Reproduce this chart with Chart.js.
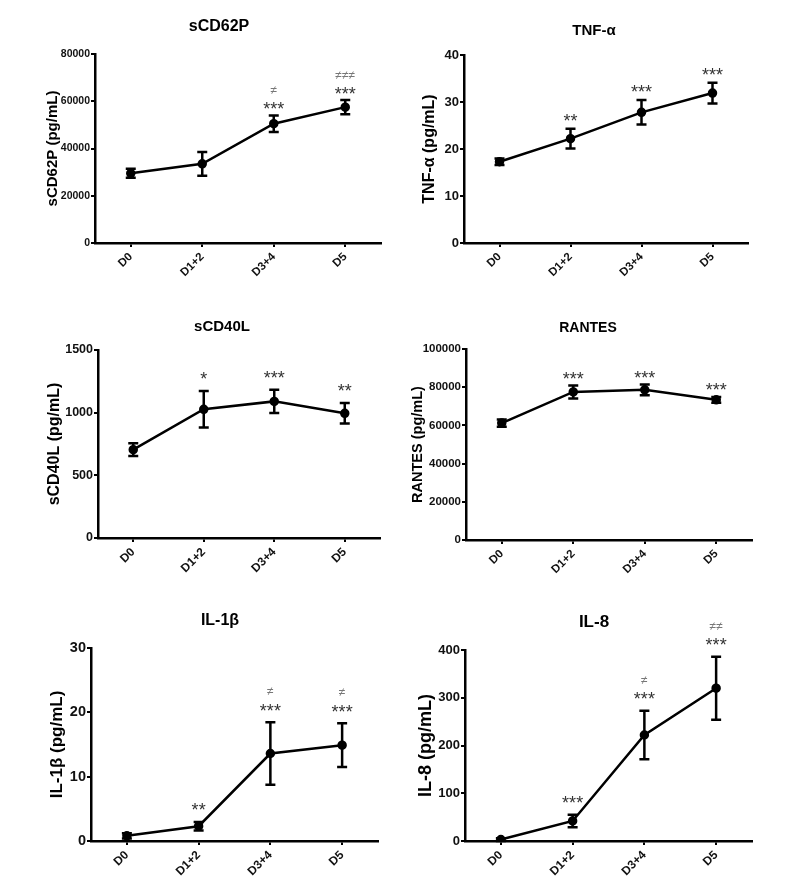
<!DOCTYPE html>
<html>
<head>
<meta charset="utf-8">
<script src="https://cdn.jsdelivr.net/npm/chart.js@4.4.1/dist/chart.umd.min.js"></script>
<style>
  html, body { margin: 0; padding: 0; background: #fff; }
  #page { position: relative; width: 800px; height: 893px; }
  canvas { position: absolute; }
</style>
</head>
<body>
<div id="page">
  <canvas id="cd62p"></canvas>
  <canvas id="tnf"></canvas>
  <canvas id="cd40l"></canvas>
  <canvas id="rantes"></canvas>
  <canvas id="il1b"></canvas>
  <canvas id="il8"></canvas>
</div>
<script>
const FONT = '"Liberation Sans", Arial, sans-serif';

// categories
const days = ["D0", "D1+2", "D3+4", "D5"];

// sCD62P
const cd62pMean  = [29500, 33500, 50500, 57500];
const cd62pSem   = [1900, 5000, 3500, 3000];
const cd62pStars = ["", "", "***", "***"];
const cd62pDiff  = ["", "", "≠", "≠≠≠"];
const cd62pTicks = [0, 20000, 40000, 60000, 80000];

// TNF-alpha
const tnfMean  = [17.3, 22.2, 27.8, 31.9];
const tnfSem   = [0.7, 2.1, 2.6, 2.2];
const tnfStars = ["", "**", "***", "***"];
const tnfDiff  = ["", "", "", ""];
const tnfTicks = [0, 10, 20, 30, 40];

// sCD40L
const cd40lMean  = [705, 1027, 1090, 995];
const cd40lSem   = [50, 145, 93, 82];
const cd40lStars = ["", "*", "***", "**"];
const cd40lDiff  = ["", "", "", ""];
const cd40lTicks = [0, 500, 1000, 1500];

// RANTES
const rantesMean  = [61200, 77500, 78600, 73400];
const rantesSem   = [1900, 3400, 2800, 1500];
const rantesStars = ["", "***", "***", "***"];
const rantesDiff  = ["", "", "", ""];
const rantesTicks = [0, 20000, 40000, 60000, 80000, 100000];

// IL-1beta
const il1bMean  = [0.8, 2.3, 13.6, 14.9];
const il1bSem   = [0.4, 0.65, 4.85, 3.4];
const il1bStars = ["", "**", "***", "***"];
const il1bDiff  = ["", "", "≠", "≠"];
const il1bTicks = [0, 10, 20, 30];

// IL-8
const il8Mean  = [3, 42, 222, 320];
const il8Sem   = [3, 13, 51, 66];
const il8Stars = ["", "***", "***", "***"];
const il8Diff  = ["", "", "≠", "≠≠"];
const il8Ticks = [0, 100, 200, 300, 400];

// error bars + significance marks, placed from the y scale
const errorBars = {
  id: "errorBars",
  afterDatasetsDraw(chart, args, o) {
    const { ctx } = chart;
    const x = chart.scales.x, y = chart.scales.y;
    const values = chart.data.datasets[0].data;
    ctx.save();
    ctx.strokeStyle = "#000";
    ctx.lineWidth = 2.5;
    values.forEach((v, i) => {
      const px = x.getPixelForValue(i);
      const top = y.getPixelForValue(v + o.err[i]);
      const bot = y.getPixelForValue(v - o.err[i]);
      ctx.beginPath();
      ctx.moveTo(px, top); ctx.lineTo(px, bot);
      ctx.moveTo(px - o.cap, top); ctx.lineTo(px + o.cap, top);
      ctx.moveTo(px - o.cap, bot); ctx.lineTo(px + o.cap, bot);
      ctx.stroke();

      const starY = top - o.starGap;
      ctx.textAlign = "center";
      ctx.textBaseline = "alphabetic";
      if (o.stars[i]) {
        ctx.font = `${o.starSize}px ${FONT}`;
        ctx.fillStyle = "#333";
        ctx.fillText(o.stars[i], px, starY + o.starSize * 0.57);
      }
      if (o.diff[i]) {
        const dy = starY - o.diffGap;
        ctx.font = `12px ${FONT}`;
        ctx.fillStyle = "#777";
        ctx.fillText(o.diff[i], px, dy + 12 * 0.33);
      }
    });
    ctx.restore();
  }
};

// panel heading
const panelTitle = {
  id: "panelTitle",
  afterDraw(chart, args, o) {
    const { ctx } = chart;
    ctx.save();
    ctx.font = `bold ${o.size}px ${FONT}`;
    ctx.fillStyle = "#000";
    ctx.textAlign = "center";
    ctx.textBaseline = "middle";
    ctx.fillText(o.text, o.x, o.y);
    ctx.restore();
  }
};

function makePanel(id, p) {
  const canvas = document.getElementById(id);
  canvas.width = p.box.w;
  canvas.height = p.box.h;
  canvas.style.left = p.box.x + "px";
  canvas.style.top = p.box.y + "px";

  const yTitleLine = p.yTitleSize * 1.2;

  return new Chart(canvas, {
    type: "line",
    data: {
      labels: days,
      datasets: [{
        data: p.mean,
        borderColor: "#000",
        borderWidth: 2.5,
        pointRadius: 3.5,
        pointBackgroundColor: "#000",
        pointBorderColor: "#000",
        tension: 0
      }]
    },
    options: {
      responsive: false,
      animation: false,
      devicePixelRatio: 1,
      layout: {
        padding: {
          left: 0,
          top: p.area.top - p.box.y,
          right: p.box.x + p.box.w - p.area.right,
          bottom: 0
        }
      },
      plugins: {
        legend: { display: false },
        tooltip: { enabled: false },
        panelTitle: { text: p.title, size: p.titleSize, x: p.titleX - p.box.x, y: p.titleY - p.box.y },
        errorBars: {
          err: p.sem, stars: p.stars, diff: p.diff, cap: 5,
          starSize: 18, starGap: p.starGap, diffGap: 15
        }
      },
      scales: {
        x: {
          type: "category",
          offset: true,
          border: { color: "#000", width: 2.5 },
          grid: { drawOnChartArea: false, drawTicks: true, tickLength: 4, color: "#000", lineWidth: 2 },
          ticks: {
            minRotation: 45, maxRotation: 45, padding: 3,
            color: "#111",
            font: { family: FONT, size: p.xTickSize, weight: "bold" }
          },
          afterFit: s => { s.height = p.box.y + p.box.h - p.area.bottom; }
        },
        y: {
          min: p.ticks[0],
          max: p.ticks[p.ticks.length - 1],
          border: { color: "#000", width: 2.5 },
          grid: { drawOnChartArea: false, drawTicks: true, tickLength: 4, color: "#000", lineWidth: 2 },
          afterBuildTicks: s => { s.ticks = p.ticks.map(v => ({ value: v })); },
          ticks: {
            padding: 1,
            color: "#111",
            font: { family: FONT, size: p.yTickSize, weight: "bold" },
            callback: v => String(v)
          },
          title: {
            display: true,
            text: p.yTitle,
            color: "#000",
            font: { family: FONT, size: p.yTitleSize, weight: "bold" },
            padding: { top: p.yTitleX - p.box.x - yTitleLine / 2, bottom: 0 }
          },
          afterFit: s => { s.width = p.area.left - p.box.x; }
        }
      }
    },
    plugins: [errorBars, panelTitle]
  });
}

makePanel("cd62p", {
  box: { x: 0, y: 0, w: 400, h: 295 },
  area: { left: 95, right: 381, top: 54, bottom: 243 },
  title: "sCD62P", titleSize: 16, titleX: 219, titleY: 27,
  yTitle: "sCD62P (pg/mL)", yTitleSize: 15, yTitleX: 53,
  yTickSize: 10.5, xTickSize: 11.5, starGap: 10.5,
  mean: cd62pMean, sem: cd62pSem, stars: cd62pStars, diff: cd62pDiff, ticks: cd62pTicks
});

makePanel("tnf", {
  box: { x: 400, y: 0, w: 400, h: 295 },
  area: { left: 464, right: 748, top: 55, bottom: 243 },
  title: "TNF-α", titleSize: 15, titleX: 594, titleY: 31,
  yTitle: "TNF-α (pg/mL)", yTitleSize: 16, yTitleX: 430,
  yTickSize: 13, xTickSize: 11.5, starGap: 12,
  mean: tnfMean, sem: tnfSem, stars: tnfStars, diff: tnfDiff, ticks: tnfTicks
});

makePanel("cd40l", {
  box: { x: 0, y: 295, w: 400, h: 295 },
  area: { left: 98, right: 380, top: 350, bottom: 538 },
  title: "sCD40L", titleSize: 15, titleX: 222, titleY: 327,
  yTitle: "sCD40L (pg/mL)", yTitleSize: 16, yTitleX: 55,
  yTickSize: 12.5, xTickSize: 12, starGap: 16,
  mean: cd40lMean, sem: cd40lSem, stars: cd40lStars, diff: cd40lDiff, ticks: cd40lTicks
});

makePanel("rantes", {
  box: { x: 400, y: 295, w: 400, h: 295 },
  area: { left: 466, right: 752, top: 349, bottom: 540 },
  title: "RANTES", titleSize: 14, titleX: 588, titleY: 328,
  yTitle: "RANTES (pg/mL)", yTitleSize: 14.5, yTitleX: 418,
  yTickSize: 11.5, xTickSize: 11.5, starGap: 11,
  mean: rantesMean, sem: rantesSem, stars: rantesStars, diff: rantesDiff, ticks: rantesTicks
});

makePanel("il1b", {
  box: { x: 0, y: 590, w: 400, h: 303 },
  area: { left: 91, right: 378, top: 648, bottom: 841 },
  title: "IL-1β", titleSize: 16, titleX: 220, titleY: 621,
  yTitle: "IL-1β (pg/mL)", yTitleSize: 17, yTitleX: 57,
  yTickSize: 14.5, xTickSize: 12, starGap: 16,
  mean: il1bMean, sem: il1bSem, stars: il1bStars, diff: il1bDiff, ticks: il1bTicks
});

makePanel("il8", {
  box: { x: 400, y: 590, w: 400, h: 303 },
  area: { left: 465, right: 752, top: 650, bottom: 841 },
  title: "IL-8", titleSize: 17, titleX: 594, titleY: 622,
  yTitle: "IL-8 (pg/mL)", yTitleSize: 18, yTitleX: 426,
  yTickSize: 13, xTickSize: 12, starGap: 16,
  mean: il8Mean, sem: il8Sem, stars: il8Stars, diff: il8Diff, ticks: il8Ticks
});
</script>
</body>
</html>
